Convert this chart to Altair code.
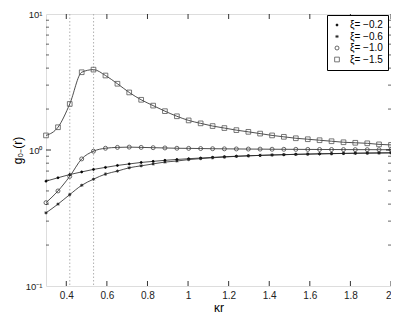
import altair as alt
import pandas as pd

# ---- data ----
kr = [0.300, 0.359, 0.417, 0.476, 0.534, 0.593, 0.652, 0.710, 0.769, 0.828,
      0.886, 0.945, 1.003, 1.062, 1.121, 1.179, 1.238, 1.297, 1.355, 1.414,
      1.472, 1.531, 1.590, 1.648, 1.707, 1.766, 1.824, 1.883, 1.941, 2.000]

g_02 = [0.59, 0.625, 0.66, 0.69, 0.72, 0.745, 0.77, 0.79, 0.81, 0.825,
        0.84, 0.852, 0.863, 0.873, 0.883, 0.892, 0.90, 0.907, 0.913, 0.919,
        0.924, 0.929, 0.933, 0.937, 0.941, 0.944, 0.947, 0.95, 0.952, 0.954]
g_06 = [0.345, 0.40, 0.47, 0.55, 0.61, 0.665, 0.70, 0.74, 0.765, 0.79,
        0.815, 0.83, 0.85, 0.864, 0.877, 0.888, 0.898, 0.906, 0.913, 0.919,
        0.924, 0.929, 0.933, 0.937, 0.94, 0.943, 0.946, 0.948, 0.95, 0.952]
g_10 = [0.41, 0.50, 0.64, 0.86, 0.98, 1.03, 1.045, 1.05, 1.045, 1.04,
        1.035, 1.03, 1.028, 1.025, 1.022, 1.02, 1.018, 1.016, 1.015, 1.013,
        1.012, 1.011, 1.01, 1.009, 1.008, 1.007, 1.006, 1.006, 1.005, 1.005]
g_15 = [1.28, 1.47, 2.18, 3.73, 3.90, 3.53, 3.07, 2.65, 2.34, 2.12,
        1.93, 1.77, 1.65, 1.57, 1.50, 1.45, 1.40, 1.36, 1.32, 1.28,
        1.25, 1.22, 1.20, 1.18, 1.16, 1.14, 1.13, 1.12, 1.10, 1.09]

series_labels = ["ξ= −0.2", "ξ= −0.6", "ξ= −1.0", "ξ= −1.5"]
series_values = [g_02, g_06, g_10, g_15]

vlines = [0.4172, 0.5345]
x_ticks = [0.4, 0.6, 0.8, 1.0, 1.2, 1.4, 1.6, 1.8, 2.0]
y_labels = [0.1, 1.0, 10.0]
y_major = [1.0]
y_minor = [0.2, 0.3, 0.4, 0.5, 0.6, 0.7, 0.8, 0.9, 2, 3, 4, 5, 6, 7, 8, 9]

# ---- tables ----
rows = []
for lab, vals in zip(series_labels, series_values):
    for x, v in zip(kr, vals):
        rows.append({"kr": x, "g": v, "series": lab})
df = pd.DataFrame(rows)

W, H = 345, 272
FONT = "Liberation Sans"

xscale = alt.Scale(domain=[0.3, 2.0], nice=False, zero=False)
yscale = alt.Scale(type="log", domain=[0.1, 10], nice=False)

asterisk = "M-1,0L1,0M0,-1L0,1M-0.72,-0.72L0.72,0.72M-0.72,0.72L0.72,-0.72"
shapes = ["circle", asterisk, "circle", "square"]
fills = ["#000000", "#000000", "transparent", "transparent"]
strokes = ["#000000", "#222222", "#444444", "#555555"]
sizes = [4, 22, 36, 40]

leg = alt.Legend(title=None, orient="none", legendX=281, legendY=1,
                 strokeColor="#000", fillColor="#fff", padding=5,
                 labelFont=FONT, labelFontSize=10, labelColor="#000",
                 labelOffset=8, rowPadding=1.5, symbolStrokeWidth=0.8)

xaxis = alt.Axis(values=x_ticks, title="κr", ticks=False, domain=False, grid=False,
                 labelFont=FONT, labelFontSize=10, labelColor="#222", labelPadding=4,
                 labelExpr="format(datum.value, '~g')",
                 titleFont=FONT, titleFontSize=12, titleFontWeight="normal",
                 titleColor="#000", titlePadding=2)
yaxis = alt.Axis(values=y_labels, title="g₀₋(r)", ticks=False, domain=False, grid=False,
                 labelFont=FONT, labelFontSize=9.5, labelColor="#222", labelPadding=4,
                 labelExpr="datum.value > 5 ? '10¹' : (datum.value > 0.5 ? '10⁰' : '10⁻¹')",
                 titleFont=FONT, titleFontSize=12, titleFontWeight="normal",
                 titleColor="#000", titlePadding=1)

vl = alt.Chart(pd.DataFrame({"kr": vlines})).mark_rule(
    color="#b0b0b0", strokeDash=[1.5, 2], strokeWidth=1
).encode(x=alt.X("kr:Q", scale=xscale, axis=xaxis))

lines = alt.Chart(df).mark_line(color="#222222", strokeWidth=0.8, interpolate="monotone").encode(
    x=alt.X("kr:Q", scale=xscale, axis=xaxis),
    y=alt.Y("g:Q", scale=yscale, axis=yaxis),
    detail="series:N",
)

points = alt.Chart(df).mark_point(strokeWidth=0.8, opacity=1, filled=False).encode(
    x=alt.X("kr:Q", scale=xscale),
    y=alt.Y("g:Q", scale=yscale),
    shape=alt.Shape("series:N", scale=alt.Scale(domain=series_labels, range=shapes), legend=leg),
    fill=alt.Fill("series:N", scale=alt.Scale(domain=series_labels, range=fills), legend=leg),
    stroke=alt.Stroke("series:N", scale=alt.Scale(domain=series_labels, range=strokes), legend=leg),
    size=alt.Size("series:N", scale=alt.Scale(domain=series_labels, range=sizes), legend=leg),
)

# inner tick marks (mirrored on all four sides)
xt = pd.DataFrame({"kr": x_ticks})
ytm = pd.DataFrame({"g": y_major})
ytn = pd.DataFrame({"g": y_minor})
tick_col = "#000000"
bt = alt.Chart(xt).mark_rule(color=tick_col, strokeWidth=0.8).encode(
    x=alt.X("kr:Q", scale=xscale), y=alt.value(H), y2=alt.value(H - 5))
tt = alt.Chart(xt).mark_rule(color=tick_col, strokeWidth=0.8).encode(
    x=alt.X("kr:Q", scale=xscale), y=alt.value(0), y2=alt.value(5))
lmaj = alt.Chart(ytm).mark_rule(color=tick_col, strokeWidth=0.8).encode(
    y=alt.Y("g:Q", scale=yscale), x=alt.value(0), x2=alt.value(5))
rmaj = alt.Chart(ytm).mark_rule(color=tick_col, strokeWidth=0.8).encode(
    y=alt.Y("g:Q", scale=yscale), x=alt.value(W), x2=alt.value(W - 5))
lmin = alt.Chart(ytn).mark_rule(color=tick_col, strokeWidth=0.6).encode(
    y=alt.Y("g:Q", scale=yscale), x=alt.value(0), x2=alt.value(3))
rmin = alt.Chart(ytn).mark_rule(color=tick_col, strokeWidth=0.6).encode(
    y=alt.Y("g:Q", scale=yscale), x=alt.value(W), x2=alt.value(W - 3))

chart = alt.layer(vl, lines, points, bt, tt, lmaj, rmaj, lmin, rmin).properties(
    width=W, height=H,
    autosize=alt.AutoSizeParams(type="none"),
    padding={"left": 38, "top": 6, "right": 0, "bottom": 28},
).configure_view(stroke="#000000", strokeWidth=1).configure(background="#ffffff")

chart.save("out.html", embed_options={"renderer": "svg", "actions": False})
